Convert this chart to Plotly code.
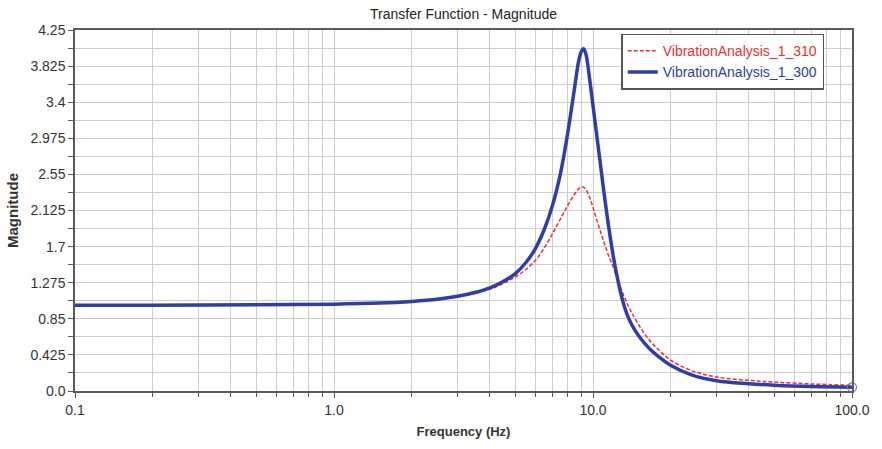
import plotly.graph_objects as go

# Frequency points (Hz) and transfer-function magnitudes for the two runs
freq_hz = [0.1, 0.2, 0.5, 1.0, 1.5, 2.0, 2.5, 3.0, 3.5, 4.0, 4.5, 5.0, 5.5, 6.0,
           6.5, 7.0, 7.5, 8.0, 8.5, 8.8, 9.0, 9.2, 9.4, 9.7, 10.0, 10.5, 11.0,
           11.5, 12.0, 12.5, 13.0, 13.5, 14.0, 15.0, 16.5, 18.0, 20.0, 24.0,
           30.0, 40.0, 50.0, 70.0, 100.0]

mag_310 = [1.01, 1.01, 1.015, 1.022, 1.035, 1.055, 1.08, 1.11, 1.15, 1.20, 1.265,
           1.34, 1.43, 1.54, 1.69, 1.86, 2.03, 2.19, 2.32, 2.38, 2.40, 2.40,
           2.37, 2.28, 2.16, 1.95, 1.76, 1.59, 1.45, 1.30, 1.16, 1.04, 0.94,
           0.78, 0.60, 0.48, 0.36, 0.24, 0.165, 0.125, 0.105, 0.083, 0.067]

mag_300 = [1.01, 1.01, 1.015, 1.022, 1.035, 1.055, 1.08, 1.115, 1.16, 1.215, 1.29,
           1.38, 1.51, 1.68, 1.91, 2.20, 2.57, 3.05, 3.58, 3.88, 3.99, 4.03,
           3.96, 3.68, 3.36, 2.85, 2.36, 1.93, 1.57, 1.29, 1.07, 0.91, 0.80,
           0.65, 0.50, 0.40, 0.30, 0.19, 0.12, 0.085, 0.068, 0.052, 0.043]

series_names = ["VibrationAnalysis_1_310", "VibrationAnalysis_1_300"]
series_colors = ["#ec2f2f", "#2e3ea6"]

# Axis ticks
x_tick_vals = [0.1, 1.0, 10.0, 100.0]
x_tick_text = ["0.1", "1.0", "10.0", "100.0"]
x_minor_vals = [d * m for d in [0.1, 1.0, 10.0] for m in range(2, 10)]
y_tick_vals = [0.0, 0.425, 0.85, 1.275, 1.7, 2.125, 2.55, 2.975, 3.4, 3.825, 4.25]
y_tick_text = ["0.0", "0.425", "0.85", "1.275", "1.7", "2.125", "2.55",
               "2.975", "3.4", "3.825", "4.25"]

FONT = "Liberation Sans, Arial, sans-serif"
GRID = "#cdcdcd"
AXIS = "#5a5a5a"

fig = go.Figure()

fig.add_trace(go.Scatter(
    x=freq_hz, y=mag_310, mode="lines",
    name=f'<span style="color:{series_colors[0]}">{series_names[0]}</span>',
    line=dict(color=series_colors[0], width=1.5, dash="4px,2px", shape="spline", smoothing=1.0),
))
fig.add_trace(go.Scatter(
    x=freq_hz, y=mag_300, mode="lines",
    name=f'<span style="color:{series_colors[1]}">{series_names[1]}</span>',
    line=dict(color=series_colors[1], width=3.5, shape="spline", smoothing=1.0),
))
# End-point marker on the last sample of the 300 run
fig.add_trace(go.Scatter(
    x=freq_hz[-1:], y=mag_300[-1:], mode="markers", showlegend=False,
    marker=dict(symbol="circle-open", size=9, color="#6a78b8", line=dict(width=1.2)),
    cliponaxis=False,
))

fig.update_layout(
    width=882, height=449,
    margin=dict(l=73, r=24, t=30, b=56),
    paper_bgcolor="white", plot_bgcolor="white",
    font=dict(family=FONT, size=14, color="#333333"),
    title=dict(text="Transfer Function - Magnitude", x=0.5, xref="paper",
               y=1 - 14 / 449, yanchor="middle",
               font=dict(family=FONT, size=14, color="#222222")),
    showlegend=True,
    legend=dict(x=0.703, y=0.99, xanchor="left", yanchor="top",
                bgcolor="white", bordercolor="#555555", borderwidth=1.5,
                font=dict(family=FONT, size=14), itemwidth=30,
                tracegroupgap=0),
)

fig.update_xaxes(
    type="log", range=[-1, 2],
    tickmode="array", tickvals=x_tick_vals, ticktext=x_tick_text,
    ticks="outside", ticklen=5, tickcolor=AXIS, tickwidth=1,
    showgrid=True, gridcolor=GRID, gridwidth=1,
    minor=dict(tickmode="array", tickvals=x_minor_vals, ticks="outside",
               ticklen=4, tickcolor=AXIS, showgrid=True, gridcolor=GRID, gridwidth=1),
    showline=True, linecolor=AXIS, linewidth=1.5, mirror=True,
    zeroline=False,
    tickfont=dict(family=FONT, size=14, color="#333333"),
    title=dict(text="<b>Frequency (Hz)</b>", standoff=10,
               font=dict(family=FONT, size=13, color="#333333")),
)

fig.update_yaxes(
    range=[0, 4.25],
    tickmode="array", tickvals=y_tick_vals, ticktext=y_tick_text,
    ticks="outside", ticklen=5, tickcolor=AXIS, tickwidth=1,
    showgrid=True, gridcolor=GRID, gridwidth=1,
    minor=dict(dtick=0.2125, tick0=0, ticks="outside", ticklen=5, tickcolor=AXIS,
               showgrid=True, gridcolor=GRID, gridwidth=1),
    showline=True, linecolor=AXIS, linewidth=1.5, mirror=True,
    zeroline=False,
    tickfont=dict(family=FONT, size=14, color="#333333"),
    title=dict(text="<b>Magnitude</b>", standoff=8,
               font=dict(family=FONT, size=15, color="#333333")),
)

fig.write_html("out.html")
